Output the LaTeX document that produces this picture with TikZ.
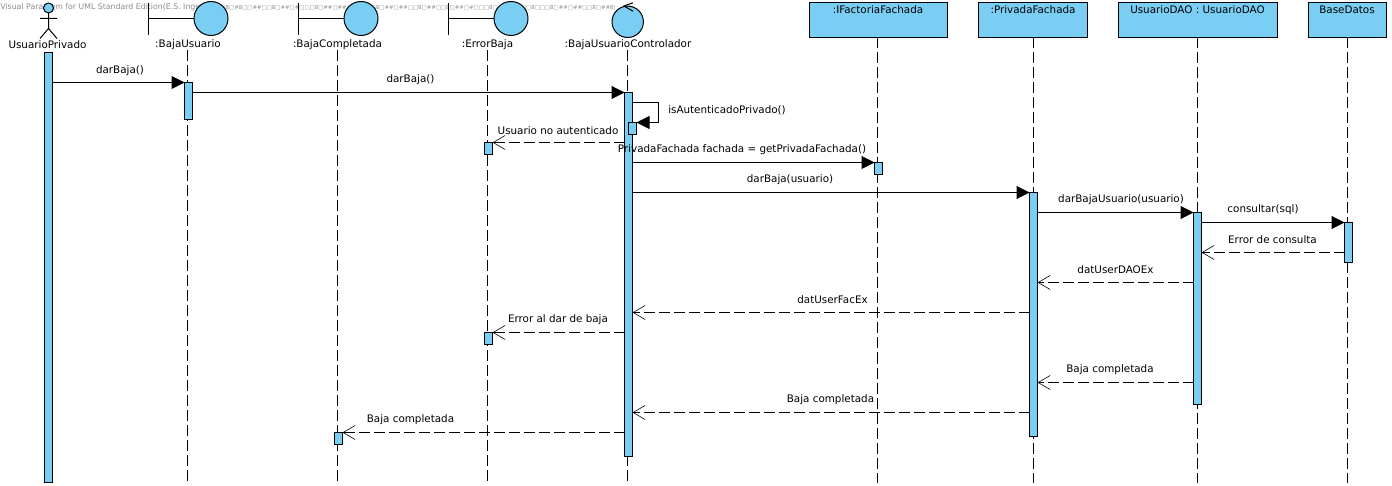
\documentclass[tikz,border=0pt]{standalone}
\usepackage{fontspec}
\setmainfont{DejaVu Sans}
\usetikzlibrary{arrows.meta}
\definecolor{vpblue}{HTML}{7ACEF4}
\tikzset{
  activ/.style={draw,line width=.5pt,fill=vpblue,minimum width=4pt,inner sep=0pt,outer sep=0pt,anchor=north},
  head/.style={draw,line width=.5pt,fill=vpblue,inner sep=0pt,outer sep=0pt,anchor=north west,text depth=0pt},
  ball/.style={draw,line width=.5pt,fill=vpblue,circle,inner sep=0pt,outer sep=0pt,minimum size=17pt},
  life/.style={line width=.5pt,dash pattern=on 5.5pt off 2pt},
  call/.style={line width=.5pt,-{Triangle[length=6.5pt,width=6.5pt]}},
  back/.style={line width=.5pt,dash pattern=on 5.5pt off 2pt,-{Straight Barb[length=6pt,width=7pt,line width=.3pt]}},
  lbl/.style={font=\fontsize{5.18pt}{6pt}\selectfont,inner sep=0pt,yshift=-.25pt},
  wmk/.style={font=\fontsize{3.9pt}{5pt}\selectfont,text=black!45,inner sep=0pt,anchor=west}
}
\begin{document}
\begin{tikzpicture}[x=.5pt,y=-.5pt]
  \useasboundingbox (0,-.5) rectangle (1392,485.5);
  \node[wmk] (wmA) at (0,7) {Visual Paradigm for UML Standard Edition(E.S. Ingenier};
  \node[wmk,font=\fontsize{2.72pt}{5pt}\selectfont] (wmB) at (215,7) {□□8□\#8□□\#\#□□8□\#\#□\#□□□8□\#\#□\#\#□□8□□□8□\#\#□\#\#□□8□\#\#□□8□\#\#□\#□□□8□\#\#□\#\#□□8□□□8□\#\#□\#\#□□8□\#\#8)};

  \node[ball,minimum size=5pt] (uHead) at (48.5,7.5) {};
  \coordinate (uHip) at (48.5,28);
  \coordinate (uArmL) at (40,18);
  \coordinate (uArmR) at (57,18);
  \coordinate (uLegL) at (40,38);
  \coordinate (uLegR) at (57,38);
  \draw[line width=.5pt] (uHead) -- (uHip) (uArmL) -- (uArmR) (uLegL) -- (uHip) -- (uLegR);

  \node[ball] (bCirc) at (211,18) {};
  \coordinate (bBarT) at (148.5,3);
  \coordinate (bBarB) at (148.5,35);
  \draw[line width=.5pt] (bBarT) -- (bBarB) (bBarT |- bCirc) -- (bCirc);
  \node[ball] (kCirc) at (361,18) {};
  \coordinate (kBarT) at (298.5,3);
  \coordinate (kBarB) at (298.5,35);
  \draw[line width=.5pt] (kBarT) -- (kBarB) (kBarT |- kCirc) -- (kCirc);
  \node[ball] (eCirc) at (511,18) {};
  \coordinate (eBarT) at (448.5,3);
  \coordinate (eBarB) at (448.5,35);
  \draw[line width=.5pt] (eBarT) -- (eBarB) (eBarT |- eCirc) -- (eCirc);
  \node[ball,minimum size=15.7pt] (cCirc) at (627.7,21.3) {};
  \coordinate (cTipU) at (633,2.3);
  \coordinate (cTipP) at (624,5.5);
  \coordinate (cTipD) at (633,10.7);
  \draw[line width=.5pt] (cTipU) -- (cTipP) -- (cTipD);

  \node[lbl] (uName) at (47.5,44) {UsuarioPrivado};
  \node[lbl] (bName) at (188,44) {:BajaUsuario};
  \node[lbl] (kName) at (337.5,44) {:BajaCompletada};
  \node[lbl] (eName) at (487.5,44) {:ErrorBaja};
  \node[lbl] (cName) at (628,44) {:BajaUsuarioControlador};

  \node[head,minimum width=69pt,minimum height=17.5pt] (fBox) at (809,2) {};
  \node[head,minimum width=54.5pt,minimum height=17.5pt] (pBox) at (978,2) {};
  \node[head,minimum width=79.5pt,minimum height=17.5pt] (dBox) at (1118,2) {};
  \node[head,minimum width=39pt,minimum height=17.5pt] (sBox) at (1308,2) {};
  \node[lbl] (fName) at (878,9) {:IFactoriaFachada};
  \node[lbl] (pName) at (1033,9) {:PrivadaFachada};
  \node[lbl] (dName) at (1197.5,9) {UsuarioDAO : UsuarioDAO};
  \node[lbl] (sName) at (1347,9) {BaseDatos};

  \coordinate (bEnd) at (187.5,482);
  \coordinate (kEnd) at (337.5,482);
  \coordinate (eEnd) at (487.5,482);
  \coordinate (cEnd) at (627.5,482);
  \coordinate (fEnd) at (877.5,482);
  \coordinate (pEnd) at (1033,482);
  \coordinate (dEnd) at (1197,482);
  \coordinate (sEnd) at (1347.5,482);
  \draw[life] (bName.south -| bEnd) -- (bEnd);
  \draw[life] (kName.south -| kEnd) -- (kEnd);
  \draw[life] (eName.south -| eEnd) -- (eEnd);
  \draw[life] (cName.south -| cEnd) -- (cEnd);
  \draw[life] (fBox.south -| fEnd) -- (fEnd);
  \draw[life] (pBox.south -| pEnd) -- (pEnd);
  \draw[life] (dBox.south -| dEnd) -- (dEnd);
  \draw[life] (sBox.south -| sEnd) -- (sEnd);

  \node[activ,minimum height=215pt] (uBar) at (48.5,52) {};
  \node[activ,minimum height=18.5pt] (bBar) at (188.5,82) {};
  \node[activ,minimum height=6pt] (kBar) at (338.5,432) {};
  \node[activ,minimum height=6pt] (eBarA) at (488.5,142) {};
  \node[activ,minimum height=6pt] (eBarB) at (488.5,332) {};
  \node[activ,minimum height=182pt] (cBar) at (628.5,92) {};
  \node[activ,minimum height=6pt] (cSelf) at (632.5,122) {};
  \node[activ,minimum height=6pt] (fBar) at (878.5,162) {};
  \node[activ,minimum height=122pt] (pBar) at (1033.5,192) {};
  \node[activ,minimum height=96pt] (dBar) at (1197.5,212) {};
  \node[activ,minimum height=20pt] (sBar) at (1348.5,222) {};

  \coordinate (selfTurn) at (658.5,102);
  \coordinate (yErrSql) at (0,252);
  \coordinate (yDaoEx) at (0,282);
  \coordinate (yFacEx) at (0,312);
  \coordinate (yDoneD) at (0,382);
  \coordinate (yDoneP) at (0,412);

  \draw[call] (uBar.east |- bBar.north) -- (bBar.north west);
  \draw[call] (bBar.north east |- cBar.north) -- (cBar.north west);
  \draw[line width=.5pt] (cBar.east |- selfTurn) -- (selfTurn);
  \draw[call] (selfTurn) |- (cSelf.north east);
  \draw[back] (cBar.west |- eBarA.north) -- (eBarA.north east);
  \draw[call] (cBar.east |- fBar.north) -- (fBar.north west);
  \draw[call] (cBar.east |- pBar.north) -- (pBar.north west);
  \draw[call] (pBar.east |- dBar.north) -- (dBar.north west);
  \draw[call] (dBar.east |- sBar.north) -- (sBar.north west);
  \draw[back] (sBar.west |- yErrSql) -- (dBar.east |- yErrSql);
  \draw[back] (dBar.west |- yDaoEx) -- (pBar.east |- yDaoEx);
  \draw[back] (pBar.west |- yFacEx) -- (cBar.east |- yFacEx);
  \draw[back] (cBar.west |- eBarB.north) -- (eBarB.north east);
  \draw[back] (dBar.west |- yDoneD) -- (pBar.east |- yDoneD);
  \draw[back] (pBar.west |- yDoneP) -- (cBar.east |- yDoneP);
  \draw[back] (cBar.west |- kBar.north) -- (kBar.north east);

  \node[lbl] (mDarA) at (120,70) {darBaja()};
  \node[lbl] (mDarB) at (410.5,79) {darBaja()};
  \node[lbl] (mAuth) at (727,109) {isAutenticadoPrivado()};
  \node[lbl] (mNoAuth) at (558,130) {Usuario no autenticado};
  \node[lbl] (mGet) at (742,149) {PrivadaFachada fachada = getPrivadaFachada()};
  \node[lbl] (mDarC) at (790,179) {darBaja(usuario)};
  \node[lbl] (mDarD) at (1121,199) {darBajaUsuario(usuario)};
  \node[lbl] (mSql) at (1263,209) {consultar(sql)};
  \node[lbl] (mErrSql) at (1272.5,239) {Error de consulta};
  \node[lbl] (mDaoEx) at (1115.5,269) {datUserDAOEx};
  \node[lbl] (mFacEx) at (832.5,299) {datUserFacEx};
  \node[lbl] (mErrBaja) at (558,319) {Error al dar de baja};
  \node[lbl] (mDoneD) at (1110,369) {Baja completada};
  \node[lbl] (mDoneP) at (830.5,399) {Baja completada};
  \node[lbl] (mDoneK) at (410.5,419) {Baja completada};
\end{tikzpicture}
\end{document}
